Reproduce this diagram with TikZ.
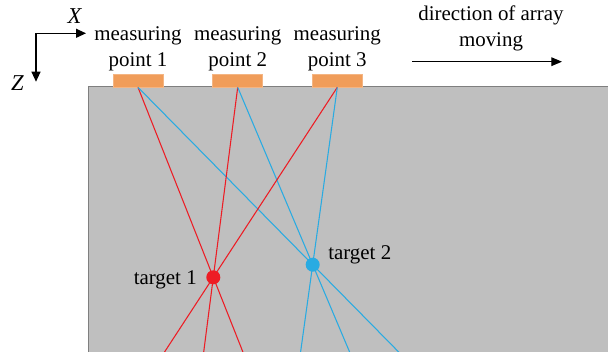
\documentclass[tikz,border=0pt]{standalone}
\usepackage{fontspec}
\setmainfont{Liberation Serif}
\usetikzlibrary{calc,arrows.meta}
\definecolor{ground}{RGB}{191,191,191}
\definecolor{groundedge}{RGB}{127,127,127}
\definecolor{padorange}{RGB}{240,157,90}
\definecolor{rayred}{RGB}{237,28,36}
\definecolor{rayblue}{RGB}{41,171,226}
\begin{document}
\begin{tikzpicture}[x=0.75pt,y=-0.75pt,
  lbl/.style={font=\fontsize{15.7}{19.5}\selectfont, inner sep=0pt, align=center},
  axlbl/.style={font=\fontsize{17}{20}\selectfont\itshape, inner sep=0pt},
  pad/.style={fill=padorange, draw=padorange!75!white, line width=0.5pt,
    minimum width=37.5pt, minimum height=9.75pt, inner sep=0pt},
  target/.style={circle, inner sep=0pt, minimum size=10.5pt},
  ray/.style={line width=0.8pt},
  axis/.style={line width=0.9pt, -{Triangle[length=7.5pt,width=6.75pt]}},
  dirarrow/.style={line width=0.8pt, -{Triangle[length=8pt,width=6.5pt]}}]
\useasboundingbox (0,0) rectangle (608,352);

% ground block
\fill[ground] (88,87) rectangle (612,356);
\draw[groundedge, line width=0.75pt] (612,87) -- (88,87) -- (88,356);

% measuring points on the surface
\node[pad] (m1) at (138,80.5) {};
\node[pad] (m2) at (237.7,80.5) {};
\node[pad] (m3) at (337.3,80.5) {};

% target positions
\coordinate (c1) at (213.3,277.3);
\coordinate (c2) at (312.7,264.7);

% rays through the targets
\begin{scope}
  \clip (88,87) rectangle (608,352);
  \foreach \m in {m1,m2,m3} {
    \draw[ray, rayred]  (\m.south) -- ($(\m.south)!2!(c1)$);
    \draw[ray, rayblue] (\m.south) -- ($(\m.south)!2!(c2)$);
  }
\end{scope}

\node[target, fill=rayred]  (t1) at (c1) {};
\node[target, fill=rayblue] (t2) at (c2) {};
\node[lbl, anchor=base east] (tl1) at (197,285) {target 1};
\node[lbl, anchor=base west] (tl2) at (328,260) {target 2};

% labels of the measuring points
\node[lbl, anchor=south] (l1) at (138,71) {measuring\\point 1};
\node[lbl, anchor=south] (l2) at (237.7,71) {measuring\\point 2};
\node[lbl, anchor=south] (l3) at (337.3,71) {measuring\\point 3};

% coordinate axes
\coordinate (o) at (36,33.3);
\coordinate (ax) at (86,33.3);
\coordinate (az) at (36,81.7);
\draw[axis] (o) -- (ax);
\draw[axis] (o) -- (az);
\node[axlbl] (X) at (74.5,16) {X};
\node[axlbl] (Z) at (17.5,83.3) {Z};

% moving direction
\node[lbl, anchor=south] (dir) at (491,51.5) {direction of array\\moving};
\coordinate (d0) at (412,61.7);
\coordinate (d1) at (562,61.7);
\draw[dirarrow] (d0) -- (d1);
\end{tikzpicture}
\end{document}
